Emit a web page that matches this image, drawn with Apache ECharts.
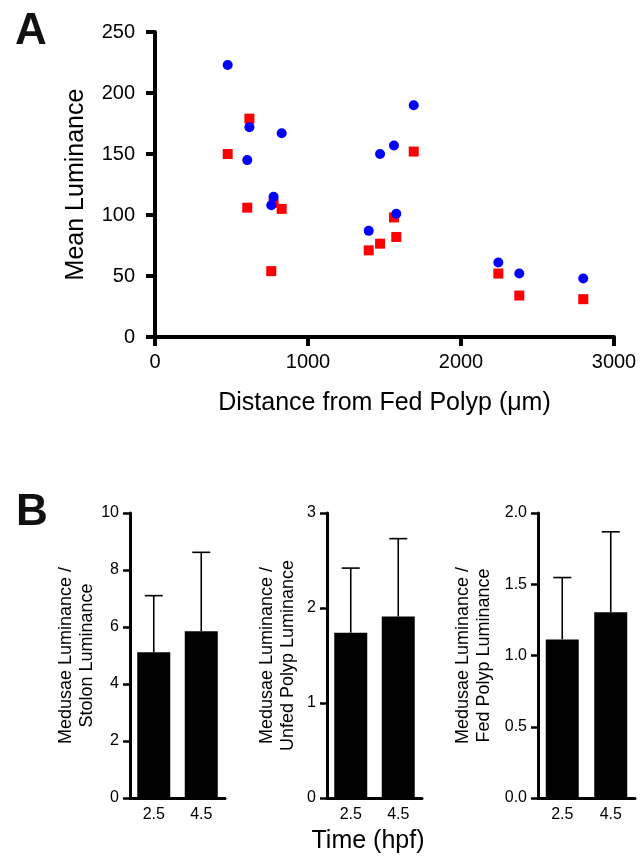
<!DOCTYPE html>
<html>
<head>
<meta charset="utf-8">
<script src="https://cdn.jsdelivr.net/npm/echarts@6/dist/echarts.min.js"></script>
<style>
html,body{margin:0;padding:0;background:#fff;}
#chart{width:640px;height:861px;}
</style>
</head>
<body>
<div id="chart"></div>
<script>
// Panel A: distance from fed polyp (µm) and mean luminance
var distance   = [475, 617, 603, 775, 760, 828, 1397, 1471, 1562, 1577, 1691, 2244, 2381, 2799];
var blueValues = [223, 172, 145, 115, 108, 167, 87, 150, 157, 101, 190, 61, 52, 48];
var redValues  = [150, 179, 106, 110, 54, 105, 71, 76.5, 98, 82, 152, 52, 34, 31];
var xTicksA = [0, 1000, 2000, 3000];
var yTicksA = [0, 50, 100, 150, 200, 250];

// Panel B: time (hpf) categories and ratios (mean, upper SD)
var timeCats = ['2.5', '4.5'];
var stolonMean = [5.11, 5.85];
var stolonSD   = [1.99, 2.77];
var unfedMean  = [1.74, 1.91];
var unfedSD    = [0.68, 0.82];
var fedMean    = [1.113, 1.303];
var fedSD      = [0.434, 0.565];

var FONT = "'Liberation Sans', Arial, Helvetica, sans-serif";

function scatterData(xs, ys){ return xs.map(function(x,i){ return [x, ys[i]]; }); }
function errData(m, s){ return m.map(function(v,i){ return [i, v, +(v + s[i]).toFixed(3)]; }); }

function errRender(params, api){
  var p0 = api.coord([api.value(0), api.value(1)]);
  var p1 = api.coord([api.value(0), api.value(2)]);
  var st = {stroke:'#000', lineWidth:1.6};
  return {type:'group', children:[
    {type:'line', shape:{x1:p0[0], y1:p0[1], x2:p1[0], y2:p1[1]}, style:st},
    {type:'line', shape:{x1:p1[0]-9, y1:p1[1], x2:p1[0]+9, y2:p1[1]}, style:st}
  ]};
}

var axisLineA = {show:true, onZero:false, lineStyle:{color:'#000', width:4}};
var axisTickA = {show:true, inside:false, length:9, lineStyle:{color:'#000', width:4}};
var axisLineB = {show:true, onZero:false, lineStyle:{color:'#000', width:3}};
var axisTickB = {show:true, inside:false, length:7, lineStyle:{color:'#000', width:2.5}};

function bY(idx, max, interval, name, gap, fmt){
  return {
    type:'value', gridIndex:idx, min:0, max:max, interval:interval,
    axisLine:axisLineB, axisTick:axisTickB, splitLine:{show:false},
    axisLabel:{color:'#000', fontSize:16, fontFamily:FONT, margin:11, formatter:fmt || function(v){ return String(v); }},
    name:name, nameLocation:'middle', nameGap:gap,
    nameTextStyle:{color:'#000', fontSize:18, fontFamily:FONT, lineHeight:21}
  };
}
function bX(idx){
  return {
    type:'category', gridIndex:idx, data:timeCats,
    axisLine:axisLineB, axisTick:{show:false},
    axisLabel:{color:'#000', fontSize:16, fontFamily:FONT, margin:9}
  };
}

var option = {
  animation:false,
  backgroundColor:'#fff',
  grid:[
    {left:155, top:32, width:459, height:305},
    {left:130, top:513, width:95, height:285},
    {left:327, top:513, width:95, height:285},
    {left:538, top:513, width:97, height:285}
  ],
  xAxis:[
    {
      type:'value', gridIndex:0, min:xTicksA[0], max:xTicksA[xTicksA.length-1], interval:1000,
      axisLine:axisLineA, axisTick:axisTickA, splitLine:{show:false},
      axisLabel:{color:'#000', fontSize:20, fontFamily:FONT, margin:15, formatter:function(v){ return String(v); }},
      name:'Distance from Fed Polyp (μm)', nameLocation:'middle', nameGap:54,
      nameTextStyle:{color:'#000', fontSize:25, fontFamily:FONT}
    },
    bX(1), bX(2), bX(3)
  ],
  yAxis:[
    {
      type:'value', gridIndex:0, min:yTicksA[0], max:yTicksA[yTicksA.length-1], interval:50,
      axisLine:axisLineA, axisTick:axisTickA, splitLine:{show:false},
      axisLabel:{color:'#000', fontSize:20, fontFamily:FONT, margin:20, formatter:function(v){ return String(v); }},
      name:'Mean Luminance', nameLocation:'middle', nameGap:66,
      nameTextStyle:{color:'#000', fontSize:25, fontFamily:FONT}
    },
    bY(1, 10, 2, 'Medusae Luminance /\nStolon Luminance', 29),
    bY(2, 3, 1, 'Medusae Luminance /\nUnfed Polyp Luminance', 28),
    bY(3, 2, 0.5, 'Medusae Luminance /\nFed Polyp Luminance', 43, function(v){ return v.toFixed(1); })
  ],
  series:[
    {type:'scatter', xAxisIndex:0, yAxisIndex:0, symbol:'rect', symbolSize:10,
     itemStyle:{color:'#ff0000', opacity:1}, data:scatterData(distance, redValues), z:2},
    {type:'scatter', xAxisIndex:0, yAxisIndex:0, symbol:'circle', symbolSize:10,
     itemStyle:{color:'#0000ff', opacity:1}, data:scatterData(distance, blueValues), z:3},
    {type:'bar', xAxisIndex:1, yAxisIndex:1, barWidth:33, itemStyle:{color:'#000'}, data:stolonMean},
    {type:'bar', xAxisIndex:2, yAxisIndex:2, barWidth:33, itemStyle:{color:'#000'}, data:unfedMean},
    {type:'bar', xAxisIndex:3, yAxisIndex:3, barWidth:33, itemStyle:{color:'#000'}, data:fedMean},
    {type:'custom', xAxisIndex:1, yAxisIndex:1, renderItem:errRender, data:errData(stolonMean, stolonSD), encode:{x:0, y:[1,2]}, z:5},
    {type:'custom', xAxisIndex:2, yAxisIndex:2, renderItem:errRender, data:errData(unfedMean, unfedSD), encode:{x:0, y:[1,2]}, z:5},
    {type:'custom', xAxisIndex:3, yAxisIndex:3, renderItem:errRender, data:errData(fedMean, fedSD), encode:{x:0, y:[1,2]}, z:5}
  ],
  graphic:[
    {type:'text', left:15, top:10, style:{text:'A', font:'bold 44px ' + FONT, fill:'#111'}},
    {type:'text', left:16, top:491, style:{text:'B', font:'bold 44px ' + FONT, fill:'#111'}},
    {type:'text', x:368, y:841, style:{text:'Time (hpf)', font:'25px ' + FONT, fill:'#000', textAlign:'center', textVerticalAlign:'middle'}}
  ]
};

var chart = echarts.init(document.getElementById('chart'), null, {renderer:'canvas'});
chart.setOption(option);
</script>
</body>
</html>
